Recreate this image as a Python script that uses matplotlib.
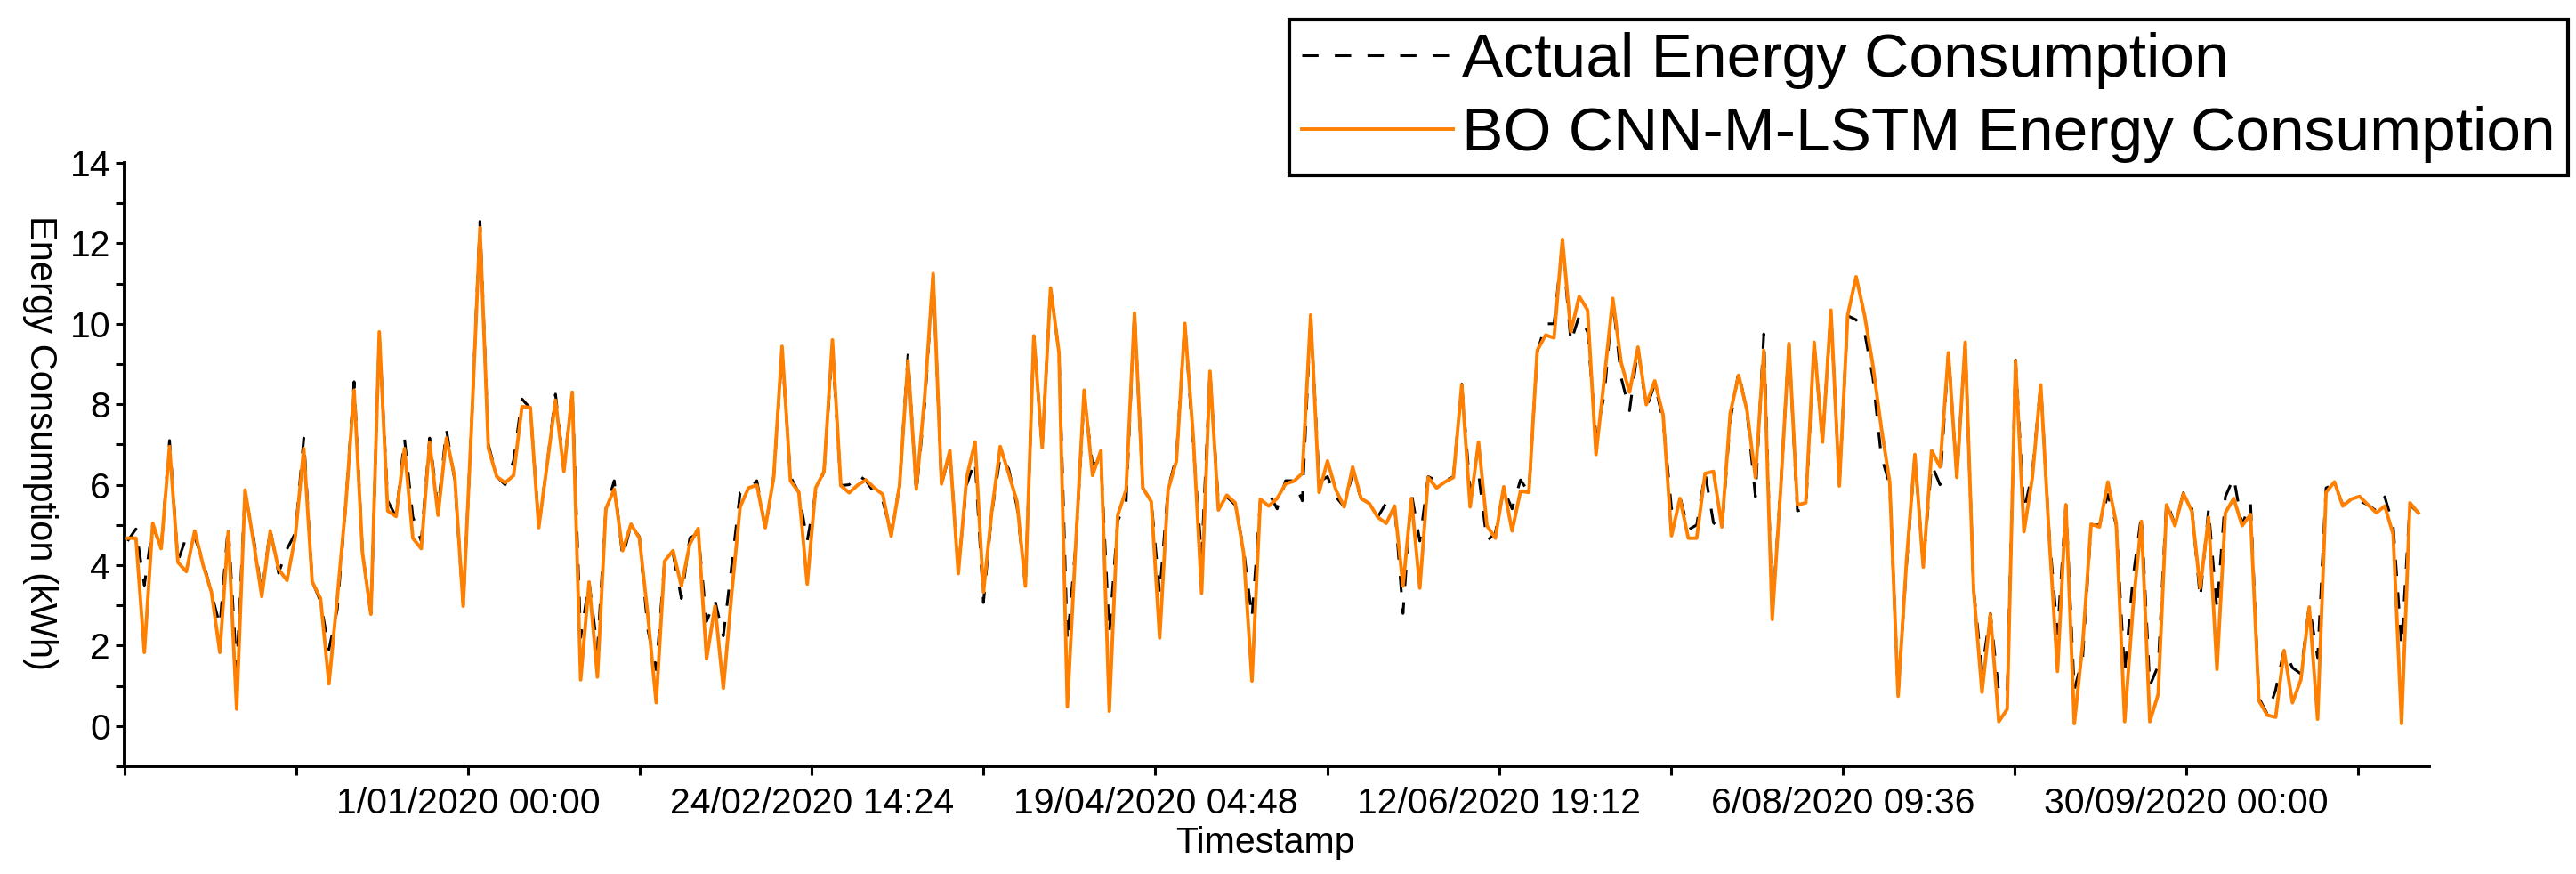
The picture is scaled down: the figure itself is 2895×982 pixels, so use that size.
import matplotlib
matplotlib.use('Agg')
import matplotlib.pyplot as plt
import matplotlib.dates as mdates
from matplotlib.ticker import FixedLocator, MultipleLocator
import pandas as pd

plt.rcParams['font.family'] = ['Liberation Sans', 'DejaVu Sans']

# ---------------- data ----------------
predicted = [
    4.67, 4.67, 1.83, 5.04, 4.41, 6.95, 4.07, 3.84, 4.85, 4.00,
    3.33, 1.83, 4.83, 0.42, 5.87, 4.60, 3.22, 4.85, 3.90, 3.62,
    4.73, 6.90, 3.59, 3.17, 1.05, 3.20, 5.50, 8.35, 4.30, 2.78,
    9.80, 5.35, 5.21, 6.90, 4.67, 4.41, 7.06, 5.24, 7.16, 6.18,
    2.98, 7.50, 12.39, 6.90, 6.20, 6.05, 6.23, 7.94, 7.92, 4.93,
    6.50, 8.10, 6.33, 8.30, 1.15, 3.58, 1.22, 5.40, 5.89, 4.36,
    5.02, 4.67, 2.76, 0.58, 4.10, 4.36, 3.48, 4.52, 4.91, 1.67,
    2.98, 0.94, 3.30, 5.45, 5.92, 5.99, 4.93, 6.18, 9.44, 6.10,
    5.81, 3.53, 5.92, 6.33, 9.60, 5.98, 5.80, 5.99, 6.12, 5.92,
    5.76, 4.72, 5.97, 9.08, 5.89, 8.20, 11.25, 6.02, 6.85, 3.79,
    6.18, 7.06, 3.33, 5.35, 6.95, 6.28, 5.58, 3.48, 9.70, 6.92,
    10.89, 9.28, 0.48, 4.52, 8.35, 6.23, 6.85, 0.37, 5.24, 5.87,
    10.27, 5.92, 5.58, 2.19, 5.87, 6.59, 10.01, 7.21, 3.30, 8.82,
    5.37, 5.74, 5.55, 4.31, 1.12, 5.64, 5.47, 5.66, 6.02, 6.09,
    6.28, 10.22, 5.81, 6.59, 5.87, 5.45, 6.44, 5.66, 5.53, 5.19,
    5.04, 5.47, 3.48, 5.66, 3.43, 6.18, 5.92, 6.07, 6.18, 8.48,
    5.45, 7.06, 4.98, 4.67, 5.95, 4.85, 5.84, 5.81, 9.34, 9.72,
    9.65, 12.10, 9.80, 10.68, 10.34, 6.75, 8.66, 10.63, 9.03, 8.30,
    9.42, 7.99, 8.58, 7.73, 4.73, 5.66, 4.67, 4.67, 6.28, 6.33,
    4.95, 7.78, 8.72, 7.84, 6.18, 9.34, 2.65, 5.87, 9.51, 5.50,
    5.55, 9.54, 7.06, 10.34, 5.97, 10.22, 11.17, 10.22, 8.97, 7.42,
    6.07, 0.74, 4.10, 6.75, 3.95, 6.85, 6.44, 9.28, 6.18, 9.54,
    3.38, 0.84, 2.78, 0.11, 0.42, 9.08, 4.83, 6.18, 8.48, 4.73,
    1.36, 5.50, 0.06, 2.03, 5.02, 4.95, 6.07, 5.04, 0.11, 2.96,
    5.09, 0.11, 0.79, 5.50, 4.98, 5.78, 5.35, 3.43, 5.19, 1.41,
    5.30, 5.66, 4.98, 5.26, 0.63, 0.27, 0.22, 1.88, 0.58, 1.15,
    2.96, 0.17, 5.81, 6.07, 5.47, 5.64, 5.71, 5.50, 5.30, 5.47,
    4.77, 0.06, 5.55, 5.30,
]

actual = [
    4.60, 4.90, 3.50, 5.00, 4.40, 7.10, 4.10, 4.70, 4.70, 4.10,
    3.30, 2.50, 5.00, 1.40, 5.80, 4.70, 3.30, 4.90, 3.80, 4.40,
    4.80, 7.16, 3.60, 3.10, 1.90, 2.90, 5.50, 8.56, 4.30, 2.80,
    9.70, 5.60, 5.20, 7.15, 5.20, 4.60, 7.16, 5.40, 7.37, 6.10,
    3.00, 7.50, 12.55, 7.00, 6.20, 6.00, 6.60, 8.13, 7.90, 5.00,
    6.50, 8.25, 6.40, 8.30, 2.20, 3.60, 1.90, 5.40, 6.10, 4.20,
    5.00, 4.70, 2.40, 1.40, 4.10, 4.30, 3.17, 4.67, 4.80, 2.60,
    3.12, 2.24, 4.00, 5.80, 5.90, 6.10, 4.90, 6.20, 9.30, 6.20,
    5.80, 4.60, 5.80, 6.33, 9.40, 5.98, 6.00, 6.25, 6.10, 5.80,
    5.60, 4.80, 5.97, 9.23, 5.80, 8.00, 11.20, 6.00, 6.80, 3.90,
    6.00, 6.60, 3.07, 5.30, 6.70, 6.40, 5.45, 3.50, 9.70, 6.90,
    10.90, 9.28, 2.10, 4.50, 8.20, 6.50, 6.60, 2.30, 5.10, 5.55,
    10.30, 5.90, 5.60, 3.30, 5.90, 6.70, 10.00, 7.00, 4.20, 8.80,
    5.55, 5.70, 5.50, 4.40, 2.70, 5.60, 5.80, 5.40, 6.10, 6.10,
    5.60, 10.20, 6.07, 6.20, 5.70, 5.45, 6.30, 5.66, 5.53, 5.20,
    5.55, 5.50, 2.80, 5.80, 4.60, 6.20, 6.10, 6.10, 6.20, 8.50,
    5.87, 6.28, 4.60, 4.80, 5.90, 5.40, 6.12, 5.81, 9.30, 10.00,
    10.00, 12.00, 9.54, 10.20, 9.80, 7.20, 8.25, 10.60, 8.66, 7.84,
    9.40, 7.90, 8.50, 7.60, 5.40, 5.70, 4.88, 5.00, 6.30, 5.05,
    4.90, 7.60, 8.80, 7.80, 5.70, 9.75, 2.80, 5.90, 9.50, 5.35,
    5.40, 9.50, 7.10, 10.30, 6.00, 10.20, 10.10, 9.80, 8.66, 6.70,
    6.00, 0.80, 4.00, 6.70, 4.00, 6.50, 6.00, 9.30, 6.20, 9.50,
    3.40, 1.40, 2.80, 0.85, 0.80, 9.10, 5.35, 6.30, 8.50, 4.80,
    2.30, 5.50, 0.90, 1.70, 5.00, 5.00, 5.76, 5.00, 1.30, 3.70,
    5.24, 1.00, 1.50, 5.60, 5.00, 5.80, 5.45, 3.17, 5.40, 2.90,
    5.70, 6.18, 5.00, 5.55, 0.70, 0.30, 0.90, 1.90, 1.45, 1.30,
    3.00, 1.70, 5.92, 6.02, 5.50, 5.60, 5.60, 5.50, 5.35, 5.70,
    5.00, 2.00, 5.50, 5.30,
]

start_time = '2019-11-07 21:00'
step = '32h'

x_tick_labels = ['1/01/2020 00:00', '24/02/2020 14:24', '19/04/2020 04:48',
                 '12/06/2020 19:12', '6/08/2020 09:36', '30/09/2020 00:00']
x_minor_ticks = ['7/11/2019 09:36', '4/12/2019 16:48', '28/01/2020 07:12',
                 '22/03/2020 21:36', '16/05/2020 12:00', '10/07/2020 02:24',
                 '2/09/2020 16:48', '27/10/2020 07:12']
x_limits = ['7/11/2019 09:36', '7/11/2020 14:24']
y_major = [0, 2, 4, 6, 8, 10, 12, 14]

labels = ['Actual Energy Consumption', 'BO CNN-M-LSTM Energy Consumption']
colors = ['black', '#FF8000']

# ---------------- plot ----------------
W, H = 2895, 982
fig = plt.figure(figsize=(W / 100, H / 100), dpi=100)
ax = fig.add_axes([140 / W, 1 - 861 / H, (2730 - 140) / W, (861 - 183) / H])

times = pd.date_range(start_time, periods=len(predicted), freq=step)
x = mdates.date2num(times.to_pydatetime())

def to_num(strs):
    return mdates.date2num(pd.to_datetime(strs, dayfirst=True,
                                          format='%d/%m/%Y %H:%M').to_pydatetime())

ax.plot(x, actual, color=colors[0], lw=2.2, dashes=(6, 6), label=labels[0], zorder=2)
ax.plot(x, predicted, color=colors[1], lw=2.8, label=labels[1], zorder=3)

xl = to_num(x_limits)
ax.set_xlim(xl[0], xl[1])
ax.set_ylim(-1, 14)

ax.xaxis.set_major_locator(FixedLocator(to_num(x_tick_labels)))
ax.xaxis.set_minor_locator(FixedLocator(to_num(x_minor_ticks)))
ax.set_xticklabels(x_tick_labels)
ax.yaxis.set_major_locator(FixedLocator(y_major))
ax.yaxis.set_minor_locator(MultipleLocator(1))

for s in ['top', 'right']:
    ax.spines[s].set_visible(False)
for s in ['left', 'bottom']:
    ax.spines[s].set_linewidth(2.8)

ax.tick_params(axis='both', which='both', direction='out', length=7.5, width=2.2,
               labelsize=29.5, colors='black')
ax.tick_params(axis='x', which='both', pad=9)
ax.tick_params(axis='y', which='both', pad=4)

fig.text(45 / W, 1 - 497 / H, 'Energy Consumption (kWh)', rotation=-90,
         ha='center', va='center', fontsize=30)
fig.text(1422 / W, 1 - 947 / H, 'Timestamp', ha='center', va='center', fontsize=29.5)

leg = ax.legend(loc='upper right', bbox_to_anchor=(2886 / W, 1 - 22 / H),
                bbox_transform=fig.transFigure, fontsize=50, frameon=True,
                fancybox=False, edgecolor='black', framealpha=1,
                handlelength=2.45, handletextpad=0.15, borderpad=0.2,
                labelspacing=0.28, borderaxespad=0)
leg.get_frame().set_linewidth(3)

fig.savefig('out.png', dpi=100)
